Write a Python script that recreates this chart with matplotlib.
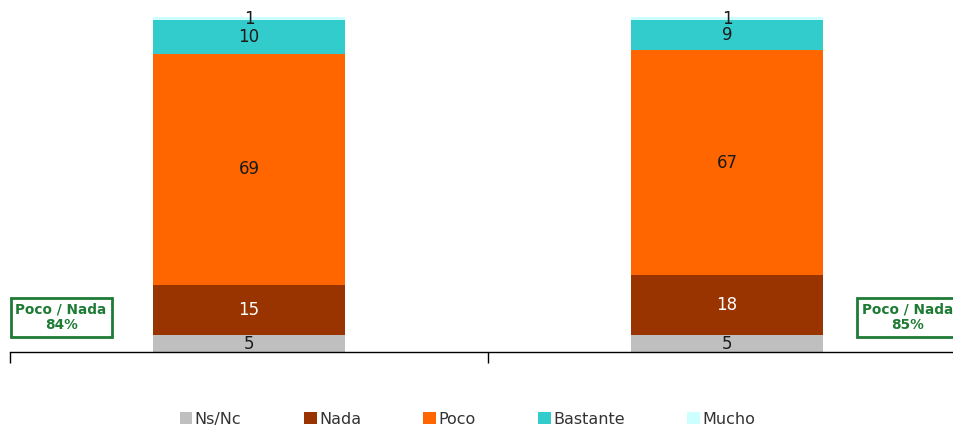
import numpy as np
import matplotlib.pyplot as plt
from matplotlib.patches import Patch

# Respuestas por grupo (porcentajes)
grupos = ['Grupo 1', 'Grupo 2']
categorias = ['Ns/Nc', 'Nada', 'Poco', 'Bastante', 'Mucho']
ns_nc = [5, 5]
nada = [15, 18]
poco = [69, 67]
bastante = [10, 9]
mucho = [1, 1]
poco_nada = ['84%', '85%']

colores = ['#BFBFBF', '#993300', '#FF6600', '#33CCCC', '#CCFFFF']
color_texto = ['#1a1a1a', 'white', '#1a1a1a', '#1a1a1a', '#1a1a1a']
verde = '#1E7B34'

fig = plt.figure(figsize=(9.54, 4.28), dpi=100)
ax = fig.add_axes([0.0105, 0.1776, 1.002, 0.7827])

series = [ns_nc, nada, poco, bastante, mucho]
x = np.arange(len(grupos))
base = np.zeros(len(grupos))
for i, valores in enumerate(series):
    vals = np.array(valores, dtype=float)
    ax.bar(x, vals, 0.40, bottom=base, color=colores[i], edgecolor='none')
    for xi, b, v in zip(x, base, vals):
        if i == len(series) - 1:
            y = b + v - 0.6
        else:
            y = b + v / 2
        ax.text(xi, y, f'{int(v)}', ha='center', va='center',
                fontsize=12, color=color_texto[i])
    base += vals

ax.set_xlim(-0.5, 1.5)
ax.set_ylim(0, 100)
ax.set_yticks([])
ax.set_xticks([-0.5, 0.5, 1.5])
ax.set_xticklabels([])
ax.tick_params(axis='x', direction='out', length=8, width=1, color='black')
for s in ['top', 'right', 'left']:
    ax.spines[s].set_visible(False)
ax.spines['bottom'].set_color('black')
ax.spines['bottom'].set_linewidth(1)

# Cajas con el total Poco / Nada
for xc, txt in zip([0.064, 0.951], poco_nada):
    fig.text(xc, 0.258, f'Poco / Nada\n{txt}', ha='center', va='center',
             fontsize=9.8, fontweight='bold', color=verde, linespacing=1.15,
             bbox=dict(boxstyle='square,pad=0.36', facecolor='white',
                       edgecolor=verde, linewidth=2))

handles = [Patch(facecolor=c, edgecolor='none') for c in colores]
fig.legend(handles, categorias, loc='center', bbox_to_anchor=(0.49, 0.02),
           ncol=5, frameon=False, fontsize=11.5, handlelength=0.8,
           handleheight=0.8, handletextpad=0.15, columnspacing=3.9,
           labelcolor='#333333')

fig.savefig('out.png', dpi=100)
